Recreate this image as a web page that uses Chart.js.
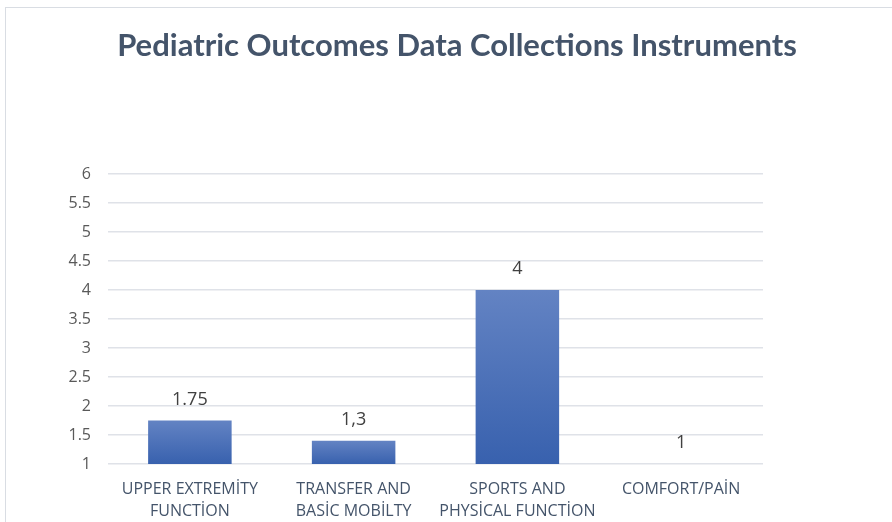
<!DOCTYPE html>
<html>
<head>
<meta charset="utf-8">
<script src="https://cdn.jsdelivr.net/npm/chart.js@4/dist/chart.umd.min.js"></script>
<style>
  html, body { margin: 0; padding: 0; background: #ffffff; }
  #wrap { position: relative; width: 892px; height: 522px; overflow: hidden; }
  #frame { position: absolute; left: 5px; top: 7px; width: 900px; height: 530px; border: 1px solid #d9dde3; box-sizing: border-box; }
  #c { position: absolute; left: 0; top: 0; }
</style>
</head>
<body>
<div id="wrap">
  <div id="frame"></div>
  <canvas id="c" width="892" height="522"></canvas>
</div>
<script>
const chartTitle = "Pediatric Outcomes Data Collections Instruments";
const categories = [
  ["UPPER EXTREMİTY", "FUNCTİON"],
  ["TRANSFER AND", "BASİC MOBİLTY"],
  ["SPORTS AND", "PHYSİCAL FUNCTİON"],
  ["COMFORT/PAİN"]
];
const values = [1.75, 1.4, 4, 1];
const valueLabels = ["1.75", "1,3", "4", "1"];
const yTicks = [1, 1.5, 2, 2.5, 3, 3.5, 4, 4.5, 5, 5.5, 6];

function barGradient(ctx) {
  const chart = ctx.chart;
  const ys = chart.scales.y;
  if (!ys || ctx.dataIndex === undefined) return '#4a6fb8';
  const v = values[ctx.dataIndex];
  const top = ys.getPixelForValue(v);
  const bot = ys.getPixelForValue(ys.min);
  if (!isFinite(top) || !isFinite(bot) || top === bot) return '#4a6fb8';
  const g = chart.ctx.createLinearGradient(0, top, 0, bot);
  g.addColorStop(0, '#6383c3');
  g.addColorStop(1, '#3861ae');
  return g;
}

const titlePlugin = {
  id: 'centerTitle',
  afterDraw(chart) {
    const ctx = chart.ctx;
    ctx.save();
    ctx.font = 'bold 31px Lato, sans-serif';
    ctx.fillStyle = '#44546a';
    ctx.textAlign = 'center';
    ctx.textBaseline = 'middle';
    ctx.fillText(chartTitle, 457, 46);
    ctx.restore();
  }
};

const valueLabelPlugin = {
  id: 'valueLabels',
  afterDatasetsDraw(chart) {
    const ctx = chart.ctx;
    const meta = chart.getDatasetMeta(0);
    ctx.save();
    ctx.font = '18px "Open Sans", sans-serif';
    ctx.fillStyle = '#404040';
    ctx.textAlign = 'center';
    ctx.textBaseline = 'middle';
    meta.data.forEach((bar, i) => {
      ctx.fillText(valueLabels[i], bar.x, bar.y - 21);
    });
    ctx.restore();
  }
};

new Chart(document.getElementById('c'), {
  type: 'bar',
  data: {
    labels: categories,
    datasets: [{
      data: values,
      backgroundColor: barGradient,
      borderWidth: 0,
      categoryPercentage: 1,
      barPercentage: 0.51
    }]
  },
  options: {
    responsive: false,
    animation: false,
    devicePixelRatio: 1,
    layout: { padding: { left: 0, right: 129, top: 174, bottom: 0 } },
    plugins: {
      legend: { display: false },
      tooltip: { enabled: false },
      title: { display: false }
    },
    scales: {
      y: {
        min: 1,
        max: 6,
        afterBuildTicks(scale) { scale.ticks = yTicks.map(v => ({ value: v })); },
        afterFit(scale) { scale.width = 108; },
        border: { display: false },
        grid: { color: '#dfe2e8', lineWidth: 1.5, drawTicks: false },
        ticks: {
          color: '#595959',
          font: { family: '"Open Sans"', size: 16 },
          padding: 17,
          callback: (v) => String(v)
        }
      },
      x: {
        afterFit(scale) { scale.height = 58; },
        border: { display: false },
        grid: { display: false, drawTicks: false },
        ticks: {
          color: '#44546a',
          font: { family: '"Open Sans"', size: 16, lineHeight: 1.4 },
          padding: 14,
          maxRotation: 0,
          autoSkip: false
        }
      }
    }
  },
  plugins: [valueLabelPlugin, titlePlugin]
});
</script>
</body>
</html>
